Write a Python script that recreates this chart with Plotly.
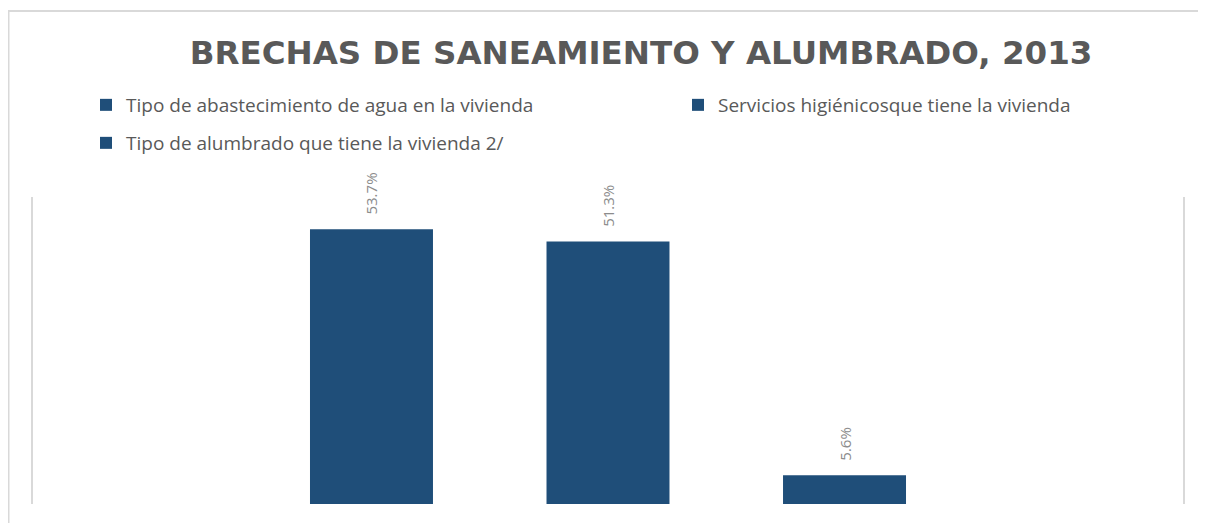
import plotly.graph_objects as go

category = ["2013"]
series_names = [
    "Tipo de abastecimiento de agua en la vivienda",
    "Servicios higiénicosque tiene la vivienda",
    "Tipo de alumbrado que tiene la vivienda 2/",
]
series_values = [53.7, 51.3, 5.6]
title_text = "BRECHAS DE SANEAMIENTO Y ALUMBRADO, 2013"

BAR = "#1F4E79"
OFF = 8  # page body margin in the rendered html
W, H = 1206 - OFF, 523 - OFF
legend_ids = ["legend", "legend2", "legend3"]

fig = go.Figure()
for name, val, lg in zip(series_names, series_values, legend_ids):
    fig.add_trace(go.Bar(
        x=category, y=[val], name=name, legend=lg,
        marker=dict(color=BAR, line=dict(width=0)),
        text=[f"{val:.1f}%"], texttemplate="\u00a0\u00a0\u00a0%{text}",
        textposition="outside", textangle=-90,
        textfont=dict(family="Open Sans", size=15, color="#8c8c8c"),
        cliponaxis=False,
    ))

def leg(xpx, ypx):
    return dict(x=xpx / W, y=1 - ypx / H, xref="container", yref="container",
                xanchor="left", yanchor="middle", bgcolor="rgba(0,0,0,0)",
                font=dict(family="Open Sans", size=19, color="#595959"),
                itemwidth=30)

L, R, T, B = 33 - OFF, 1183 - OFF, 197 - OFF, 504 - OFF
fig.update_layout(
    width=W, height=H,
    margin=dict(l=L, r=W - R, t=T, b=H - B, autoexpand=False),
    paper_bgcolor="white", plot_bgcolor="white",
    barmode="group", bargap=0.383, bargroupgap=0.48,
    showlegend=True,
    title=dict(text=f"<b>{title_text}</b>", x=(641 - OFF) / W, y=1 - (53 - OFF) / H,
               xanchor="center", yanchor="middle",
               font=dict(family="DejaVu Sans", size=32.5, color="#595959")),
    xaxis=dict(visible=False),
    yaxis=dict(range=[0, 60], showticklabels=False, showgrid=False, zeroline=False,
               showline=True, mirror=True, linecolor="#d9d9d9", linewidth=2, ticks=""),
    legend=leg(78, 97),
    legend2=leg(670, 97),
    legend3=leg(78, 135),
)

# outer chart-area border (cropped on right/bottom as in the reference)
pw, ph = R - L, B - T
fig.add_shape(type="rect", xref="paper", yref="paper",
              x0=(0.5 - L) / pw, x1=(W + 10 - L) / pw,
              y0=(B - (H + 10)) / ph, y1=(B - (11 - OFF)) / ph,
              line=dict(color="#d9d9d9", width=2), layer="below")

fig.write_html("out.html")
